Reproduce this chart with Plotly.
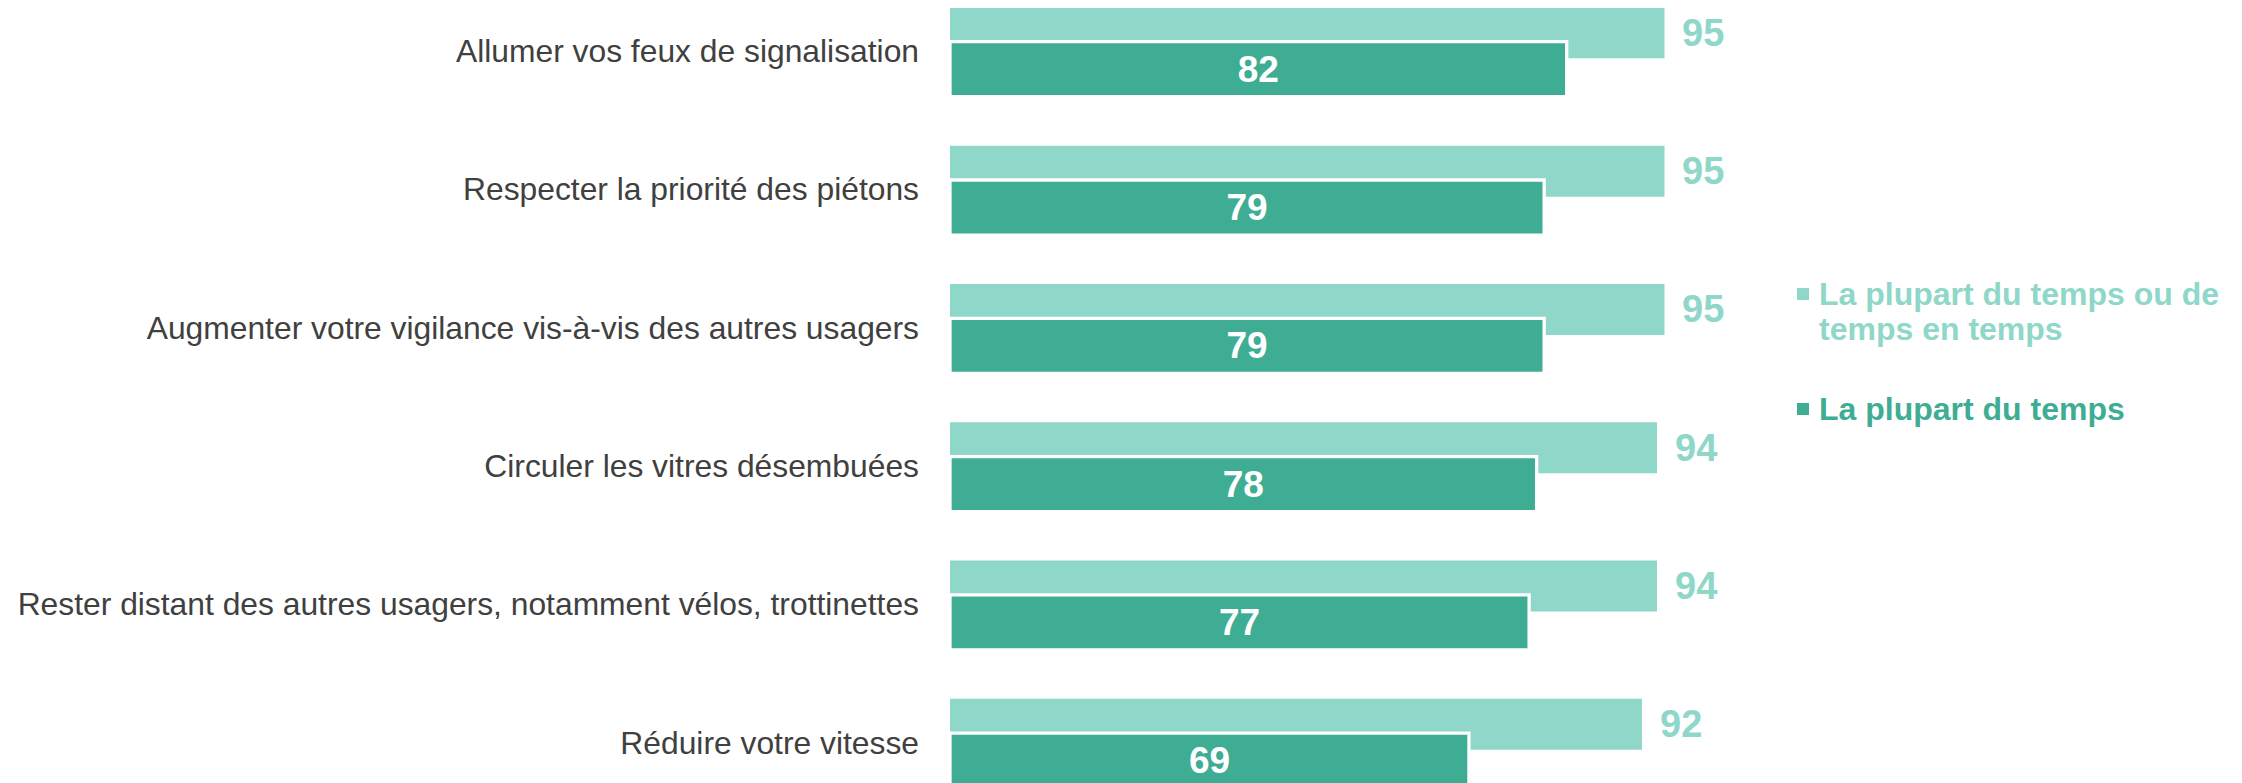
import plotly.graph_objects as go

categories = [
    "Allumer vos feux de signalisation",
    "Respecter la priorité des piétons",
    "Augmenter votre vigilance vis-à-vis des autres usagers",
    "Circuler les vitres désembuées",
    "Rester distant des autres usagers, notamment vélos, trottinettes",
    "Réduire votre vitesse",
]
often_or_sometimes = [95, 95, 95, 94, 94, 92]
mostly = [82, 79, 79, 78, 77, 69]

legend_light_lines = ["La plupart du temps ou de", "temps en temps"]
legend_dark_lines = ["La plupart du temps"]

LIGHT = "#8FD7C8"
DARK = "#3EAD94"
FONT = "Liberation Sans, Arial, sans-serif"

W, H = 2242, 783
SHIFT = 8  # page body margin offset
ML = 942
row_px = 138.3
px_per_unit = 7.521

light_w, light_off = 0.369, -0.315
dark_w, dark_off = 0.398, -0.0665

fig = go.Figure()
fig.add_trace(go.Bar(
    y=categories, x=often_or_sometimes, orientation="h",
    name=" ".join(legend_light_lines),
    marker=dict(color=LIGHT, line=dict(width=0)),
    width=light_w, offset=light_off,
    hoverinfo="skip",
))
fig.add_trace(go.Bar(
    y=categories, x=mostly, orientation="h",
    name=" ".join(legend_dark_lines),
    marker=dict(color=DARK, line=dict(width=3.3, color="white")),
    width=dark_w, offset=dark_off,
    text=[str(v) for v in mostly], textposition="inside",
    insidetextanchor="middle", constraintext="none",
    textfont=dict(family=FONT, size=37, color="white", weight="bold"),
    hoverinfo="skip",
))

annotations = []
for i, v in enumerate(often_or_sometimes):
    annotations.append(dict(
        x=v, y=i + light_off + light_w / 2, xref="x", yref="y",
        text=str(v), showarrow=False, xanchor="left", yanchor="middle",
        xshift=16, font=dict(family=FONT, size=38, color=LIGHT, weight="bold"),
    ))

plot_w = W - ML


def px_x(px):
    return (px - SHIFT - ML) / plot_w


def px_y(py):
    return 1 - (py - SHIFT) / H


# manual legend (page pixel positions)
shapes = []
legend_items = [
    (legend_light_lines, LIGHT, 294, 294),
    (legend_dark_lines, DARK, 409, 409),
]
for lines, color, sq_cy, text_cy in legend_items:
    shapes.append(dict(
        type="rect", xref="paper", yref="paper",
        x0=px_x(1797), x1=px_x(1809), y0=px_y(sq_cy - 6), y1=px_y(sq_cy + 6),
        fillcolor=color, line=dict(width=0),
    ))
    for k, line in enumerate(lines):
        annotations.append(dict(
            x=px_x(1817), y=px_y(text_cy + 35 * k), xref="paper", yref="paper",
            text=line, showarrow=False, xanchor="left", yanchor="middle",
            font=dict(family=FONT, size=32, color=color, weight="bold"),
        ))

top_val = -(50.9 - SHIFT) / row_px
bottom_val = top_val + H / row_px

fig.update_layout(
    width=W, height=H,
    margin=dict(l=ML, r=0, t=0, b=0, pad=0),
    barmode="overlay",
    plot_bgcolor="white", paper_bgcolor="white",
    showlegend=False,
    annotations=annotations,
    shapes=shapes,
)
fig.update_xaxes(range=[0, plot_w / px_per_unit], visible=False, showgrid=False, zeroline=False)
fig.update_yaxes(
    type="category", range=[bottom_val, top_val],
    showgrid=False, zeroline=False, showline=False, ticks="",
    tickfont=dict(family=FONT, size=31.8, color="#404040"),
    ticklabelstandoff=30, automargin=False,
)

fig.write_html("out.html")
